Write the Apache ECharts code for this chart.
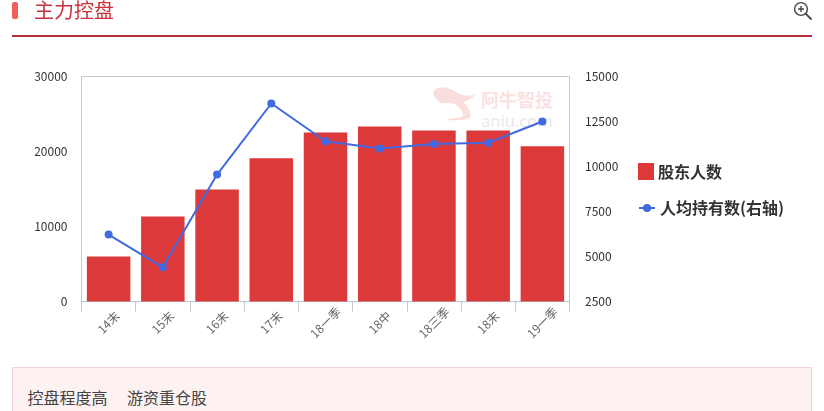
<!DOCTYPE html>
<html><head><meta charset="utf-8">
<style>
html,body{margin:0;padding:0;background:#fff;overflow:hidden}
body{width:824px;height:411px;position:relative;font-family:"Noto Sans CJK SC","Noto Sans",sans-serif}
#chart{position:absolute;left:0;top:0;width:824px;height:411px}
#mark{position:absolute;left:12px;top:2px;width:6px;height:17px;background:#f0605a;border-radius:2px}
#title{position:absolute;left:34px;top:-4px;font-size:20px;line-height:28px;color:#c8323c}
#rule{position:absolute;left:12px;top:35px;width:800px;height:2px;background:#b5303a}
#box{position:absolute;left:12px;top:367px;width:798px;height:60px;background:#fdf1f1;border:1px solid #f0d5d7}
.tag{position:absolute;top:386px;font-size:16px;line-height:22px;color:#444}
#zoomico{position:absolute;left:793px;top:1px}
#wm{position:absolute;left:433px;top:85px}
.wm1{position:absolute;left:481px;top:87px;font-size:18px;line-height:24px;font-weight:700;color:#fae2e2}
.wm2{position:absolute;left:481px;top:109px;font-size:16.5px;line-height:24px;color:#e9e9e9;font-family:"Noto Sans"}
</style></head><body>
<svg id="wm" width="56" height="44"><path d="M0 7C3 1 14 0 25 8C30 11 36 11 42 10C38 14 34 16 30 17C34 20 37 26 38 31C38 35 24 36 12 35C20 33 30 33 30 30C30 25 24 19 18 18C14 17 10 19 8 18C4 16 0 11 0 7Z" fill="#f9dede"/></svg>
<div class="wm1">阿牛智投</div><div class="wm2">aniu.com</div>
<div id="chart"></div>
<div id="mark"></div><div id="title">主力控盘</div><div id="rule"></div>
<div id="box"></div><div class="tag" style="left:27.5px">控盘程度高</div><div class="tag" style="left:127px">游资重仓股</div>
<svg id="zoomico" width="20" height="20" viewBox="0 0 20 20" fill="none" stroke="#444" stroke-width="1.4">
<circle cx="8" cy="8" r="6.4"/><path d="M8 5v6M5 8h6"/><path d="M12.6 12.6L18.5 18.5" stroke-width="1.8"/></svg>
<script src="https://cdn.jsdelivr.net/npm/echarts@6/dist/echarts.min.js"></script>
<script>
const categories = ['14末','15末','16末','17末','18一季','18中','18三季','18末','19一季'];
const holders = [6000,11350,14950,19100,22550,23350,22800,22800,20700];
const perHolder = [6220,4400,9550,13500,11400,11000,11250,11320,12500];
const leftTicks = [0,30000];
const rightTicks = [2500,15000];
const plain = v => String(v);
const chart = echarts.init(document.getElementById('chart'));
const legendText = {fontSize:16,color:'#333',fontWeight:'bold'};
chart.setOption({
  animation:false,
  textStyle:{fontFamily:'"Noto Sans CJK SC","Noto Sans",sans-serif'},
  grid:{left:81.5,top:76.5,width:488,height:225,show:true,borderColor:'#c8c8c8',borderWidth:1,backgroundColor:'transparent'},
  legend:[
    {orient:'vertical',left:638,top:163,padding:0,itemGap:0,itemWidth:16,itemHeight:17,
     textStyle:{...legendText,padding:[0,0,0,-1]},data:[{name:'股东人数',icon:'rect'}]},
    {orient:'vertical',left:638,top:200,padding:0,itemGap:0,itemWidth:16,itemHeight:10,
     textStyle:{...legendText,padding:[0,0,0,0]},data:[{name:'人均持有数(右轴)'}]}
  ],
  xAxis:{type:'category',data:categories,
    axisLine:{lineStyle:{color:'#b4c6dc',width:1}},
    axisTick:{show:true,length:10,lineStyle:{color:'#c8c8c8'}},
    axisLabel:{rotate:45,fontSize:12,color:'#666',margin:21,interval:0,align:'center',verticalAlign:'middle'},
    splitLine:{show:false}},
  yAxis:[
    {type:'value',min:leftTicks[0],max:leftTicks[1],interval:10000,
     axisLine:{show:false},axisTick:{show:false},splitLine:{show:false},
     axisLabel:{fontSize:12,color:'#333',margin:14,formatter:plain}},
    {type:'value',min:rightTicks[0],max:rightTicks[1],interval:2500,
     axisLine:{show:false},axisTick:{show:false},splitLine:{show:false},
     axisLabel:{fontSize:12,color:'#333',margin:15.5,formatter:plain}}
  ],
  series:[
    {name:'股东人数',type:'bar',data:holders,barWidth:43.5,itemStyle:{color:'#dc3a3a'},z:2},
    {name:'人均持有数(右轴)',type:'line',yAxisIndex:1,data:perHolder,symbol:'circle',symbolSize:8,
     lineStyle:{color:'#4169e1',width:2},itemStyle:{color:'#4169e1'},z:3}
  ]
});
</script></body></html>
